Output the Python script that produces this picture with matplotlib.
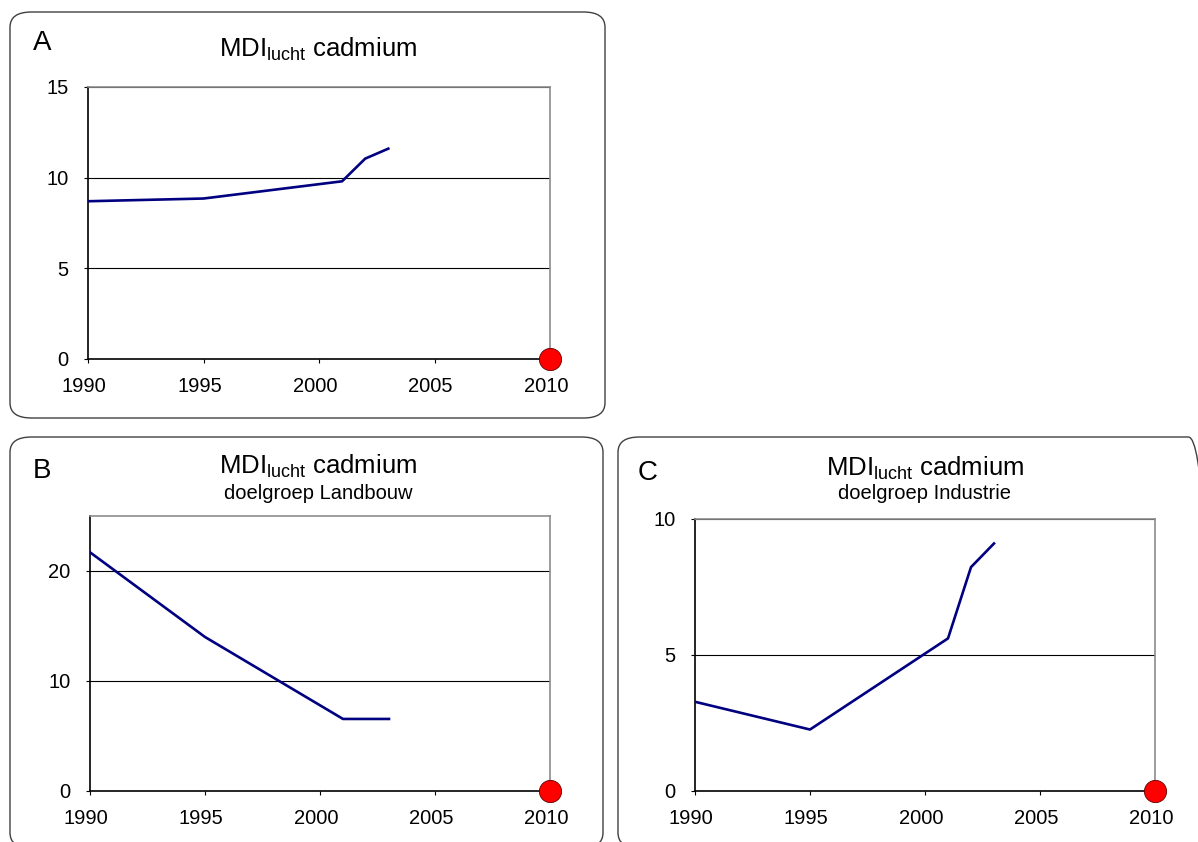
import matplotlib
matplotlib.use("Agg")
import matplotlib.pyplot as plt
import matplotlib.transforms as mtransforms
from matplotlib.patches import FancyBboxPatch

plt.rcParams['font.family'] = ['Liberation Sans', 'DejaVu Sans']
plt.rcParams['mathtext.fontset'] = 'custom'
plt.rcParams['mathtext.rm'] = 'Liberation Sans'

# panel A: totaal
years_a = [1990, 1995, 2001, 2002, 2003]
mdi_a = [8.7, 8.85, 9.8, 11.05, 11.6]
# panel B: doelgroep Landbouw
years_b = [1990, 1995, 2001, 2003]
mdi_b = [21.7, 14.0, 6.55, 6.55]
# panel C: doelgroep Industrie
years_c = [1990, 1995, 2001, 2002, 2003]
mdi_c = [3.28, 2.26, 5.61, 8.23, 9.1]

target_year = 2010
target_value = 0
xticks = [1990, 1995, 2000, 2005, 2010]

W, H = 1198, 842
fig = plt.figure(figsize=(W / 100, H / 100), dpi=100)


def fx(px):
    return px / W


def fy(py):
    return 1 - py / H


# rounded frames around each panel
for x0, y0, x1, y1 in [(10, 12, 605, 418), (10, 437, 603, 848), (618, 437, 1210, 848)]:
    box = FancyBboxPatch((fx(x0), fy(y1)), fx(x1 - x0), (y1 - y0) / H,
                         boxstyle="round,pad=0,rounding_size=0.018",
                         transform=fig.transFigure, facecolor='none',
                         edgecolor='#404040', linewidth=1.0)
    fig.patches.append(box)

shift = mtransforms.ScaledTranslation(-4 / 100, 0, fig.dpi_scale_trans)


def panel(rect, years, vals, ymax, yticks):
    l, t, r, b = rect
    ax = fig.add_axes([fx(l), fy(b), fx(r - l), (b - t) / H])
    ax.plot(years, vals, color='#000080', linewidth=1.9, zorder=3)
    ax.plot([target_year], [target_value], 'o', color='red', markersize=16,
            markeredgecolor='#600000', markeredgewidth=0.6, clip_on=False, zorder=5)
    ax.set_xlim(1990, 2010)
    ax.set_ylim(0, ymax)
    ax.set_xticks(xticks)
    ax.set_yticks(yticks)
    for y in yticks[1:]:
        ax.axhline(y, color='black', linewidth=0.8, zorder=1)
    ax.spines['left'].set_color('black')
    ax.spines['bottom'].set_color('black')
    ax.spines['top'].set_color('#8c8c8c')
    ax.spines['right'].set_color('#8c8c8c')
    for s in ax.spines.values():
        s.set_linewidth(1.2)
    ax.tick_params(axis='x', direction='out', length=3, width=0.8, pad=10, labelsize=14.5)
    ax.tick_params(axis='y', direction='out', length=3, width=0.8, pad=11, labelsize=14.5)
    for lab in ax.get_xticklabels():
        lab.set_transform(lab.get_transform() + shift)
    return ax


panel((88, 87, 550, 359), years_a, mdi_a, 15, [0, 5, 10, 15])
panel((90, 516, 550, 791), years_b, mdi_b, 25, [0, 10, 20])
panel((695, 519, 1155, 791), years_c, mdi_c, 10, [0, 5, 10])

title = r'MDI$_{\mathregular{lucht}}$ cadmium'
fig.text(fx(318), fy(49), title, ha='center', va='center', fontsize=18.5)
fig.text(fx(318), fy(466), title, ha='center', va='center', fontsize=18.5)
fig.text(fx(318), fy(494), 'doelgroep Landbouw', ha='center', va='center', fontsize=14.5)
fig.text(fx(925), fy(468), title, ha='center', va='center', fontsize=18.5)
fig.text(fx(925), fy(494), 'doelgroep Industrie', ha='center', va='center', fontsize=14.5)

fig.text(fx(42), fy(43), 'A', ha='center', va='center', fontsize=20)
fig.text(fx(42), fy(471), 'B', ha='center', va='center', fontsize=20)
fig.text(fx(648), fy(473), 'C', ha='center', va='center', fontsize=20)

fig.savefig('out.png', dpi=100)
